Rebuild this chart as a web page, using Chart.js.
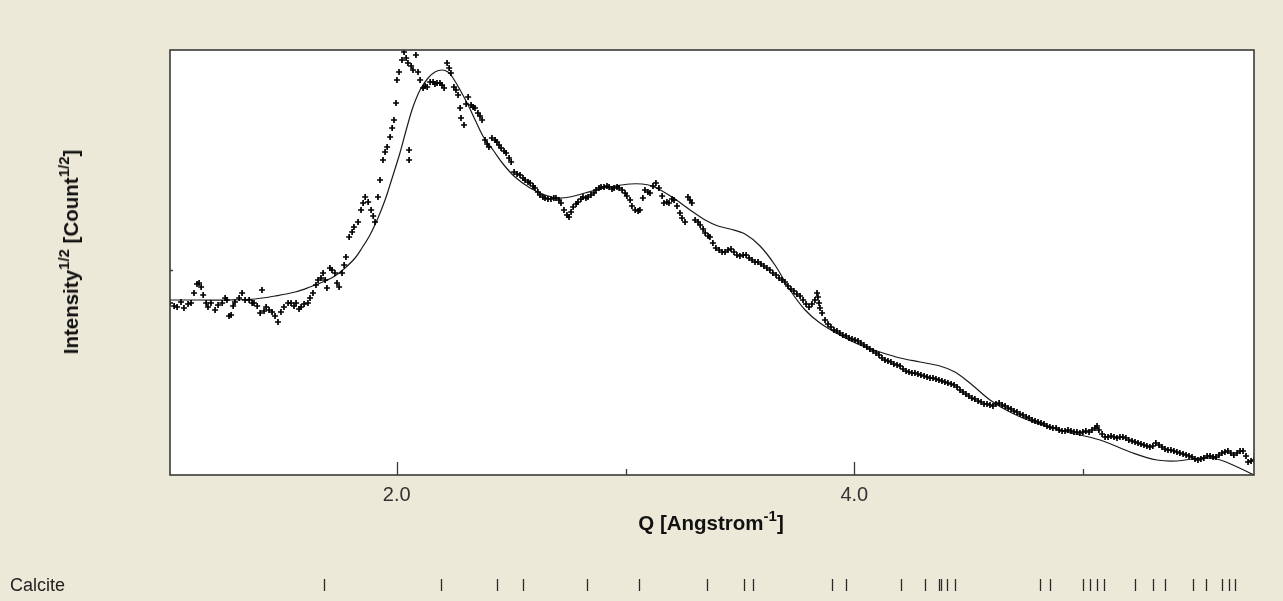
<!DOCTYPE html>
<html>
<head>
<meta charset="utf-8">
<script src="https://cdn.jsdelivr.net/npm/chart.js@4.4.1/dist/chart.umd.min.js"></script>
<style>
  html, body { margin: 0; padding: 0; background: #ece9d8; }
  #wrap { position: relative; width: 1283px; height: 601px; overflow: hidden; }
  canvas { position: absolute; left: 0; top: 0; }
  .lbl { position: absolute; font-family: "Liberation Sans", Arial, sans-serif; color: #111; white-space: nowrap; }
  .title { font-weight: bold; font-size: 20.5px; }
  .title sup { font-size: 15px; position: relative; vertical-align: baseline; top: -0.6em; }
  #ytitle { left: 71px; top: 252px; transform: translate(-50%, -50%) rotate(-90deg); }
  #xtitle { left: 711px; top: 523px; transform: translate(-50%, -50%); }
  #phase { left: 10px; top: 585px; transform: translateY(-50%); font-size: 18px; color: #222; }
</style>
</head>
<body>
<div id="wrap">
  <canvas id="c" width="1283" height="601"></canvas>
  <div id="ytitle" class="lbl title">Intensity<sup>1/2</sup> [Count<sup>1/2</sup>]</div>
  <div id="xtitle" class="lbl title">Q [Angstrom<sup>-1</sup>]</div>
  <div id="phase" class="lbl">Calcite</div>
</div>
<script>
// Observed pattern: Q [1/Angstrom] and sqrt(intensity)
const qObs = [
  1.009,1.027,1.040,1.057,1.070,1.088,1.101,1.114,1.127,1.136,1.145,1.154,1.167,1.175,1.188,1.206,1.219,1.237,1.250,1.258,
  1.267,1.276,1.285,1.293,1.311,1.324,1.337,1.355,1.368,1.376,1.390,1.403,1.411,1.420,1.429,1.442,1.455,1.468,1.481,1.494,
  1.507,1.525,1.538,1.551,1.560,1.573,1.582,1.595,1.612,1.621,1.634,1.647,1.656,1.669,1.678,1.687,1.695,1.708,1.717,1.730,
  1.739,1.748,1.761,1.770,1.778,1.792,1.805,1.813,1.831,1.844,1.853,1.862,1.875,1.888,1.897,1.905,1.918,1.927,1.940,1.949,
  1.958,1.971,1.980,1.988,1.997,2.001,2.010,2.023,2.032,2.041,2.049,2.054,2.054,2.063,2.071,2.084,2.093,2.102,2.115,2.124,
  2.133,2.146,2.159,2.167,2.176,2.189,2.198,2.207,2.220,2.229,2.237,2.250,2.259,2.268,2.277,2.281,2.294,2.303,2.312,2.325,
  2.334,2.342,2.355,2.364,2.373,2.386,2.395,2.403,2.416,2.430,2.438,2.447,2.456,2.469,2.478,2.491,2.500,2.513,2.526,2.539,
  2.552,2.561,2.574,2.583,2.596,2.604,2.617,2.626,2.639,2.648,2.661,2.674,2.687,2.696,2.709,2.718,2.731,2.744,2.753,2.762,
  2.771,2.784,2.792,2.805,2.814,2.827,2.836,2.849,2.862,2.871,2.884,2.893,2.906,2.919,2.928,2.941,2.950,2.963,2.972,2.985,
  2.998,3.006,3.020,3.028,3.042,3.055,3.063,3.076,3.085,3.098,3.107,3.120,3.133,3.146,3.160,3.168,3.181,3.190,3.203,3.212,
  3.225,3.238,3.247,3.260,3.273,3.282,3.290,3.304,3.317,3.326,3.339,3.348,3.361,3.369,
  3.382,3.395,3.409,3.422,3.435,3.448,3.461,3.474,3.487,3.500,3.514,3.527,3.540,3.553,3.566,3.579,3.592,3.605,3.618,3.631,
  3.644,3.658,3.671,3.684,3.697,3.710,3.723,3.736,3.749,3.763,3.776,3.789,3.802,3.815,3.828,3.837,3.841,3.846,3.850,3.859,
  3.872,3.885,3.898,3.911,3.924,3.937,3.950,3.964,3.977,3.990,4.003,4.016,4.029,4.042,4.055,4.068,4.082,4.095,4.108,4.121,
  4.134,4.147,4.160,4.173,4.187,4.200,4.213,4.226,4.239,4.252,4.265,4.278,4.291,4.305,4.318,4.331,4.344,4.357,4.370,4.383,
  4.396,4.409,4.423,4.436,4.449,4.462,4.475,4.488,4.501,4.514,4.527,4.541,4.554,4.567,4.580,4.593,4.606,4.619,4.633,4.646,
  4.659,4.672,4.685,4.698,4.711,4.724,4.737,4.751,4.764,4.777,4.790,4.803,4.816,4.829,4.842,4.855,4.868,4.882,4.895,4.908,
  4.921,4.934,4.947,4.960,4.973,4.986,4.999,5.012,5.026,5.039,5.052,5.061,5.069,5.083,5.096,5.109,5.122,5.135,5.148,5.161,
  5.174,5.187,5.200,5.214,5.227,5.240,5.253,5.266,5.279,5.292,5.305,5.318,5.332,5.345,5.358,5.371,5.384,5.397,5.410,5.423,
  5.437,5.450,5.463,5.476,5.489,5.502,5.515,5.528,5.542,5.555,5.568,5.581,5.594,5.607,5.620,5.633,5.646,5.659,5.673,5.686,
  5.699,5.712,5.721,5.734,5.747
];
const iObs = [
  267,264,263,268,262,266,267,277,286,287,283,275,267,263,267,260,265,267,272,270,
  254,255,264,268,272,277,270,270,267,267,264,257,280,259,263,260,258,254,248,258,
  263,267,267,264,267,261,263,266,267,272,277,285,290,292,297,290,282,302,300,297,
  287,283,297,305,313,333,338,343,348,360,367,373,368,360,354,348,373,390,410,418,
  423,433,442,450,467,490,498,510,518,512,507,420,410,504,500,515,498,490,482,484,
  483,488,488,486,487,487,485,482,507,502,497,483,480,475,462,452,445,466,473,465,
  463,462,457,454,450,430,426,423,432,430,428,425,422,419,417,412,408,398,396,395,
  392,390,388,387,384,382,378,375,373,372,371,371,372,372,370,367,360,355,353,358,
  363,366,368,371,373,372,373,375,377,380,382,383,383,384,383,381,382,383,382,380,
  377,374,370,364,360,359,360,372,380,378,377,384,387,382,374,367,368,367,371,370,
  364,357,352,348,373,370,367,350,348,345,341,337,334,333,
  327,322,320,318,318,320,321,318,315,314,315,315,312,310,308,308,306,304,302,300,
  297,295,292,290,288,284,281,279,276,274,270,266,263,266,270,277,273,267,262,257,
  250,246,243,240,239,237,235,234,232,231,230,229,227,225,223,221,219,217,215,212,
  210,209,208,206,205,204,201,199,198,197,197,196,195,194,193,192,192,191,190,189,
  188,187,186,185,183,180,178,176,174,172,171,169,168,166,166,165,164,166,167,165,
  164,162,161,159,158,156,155,153,152,150,149,148,147,146,144,143,142,142,140,139,
  139,140,139,138,138,137,138,139,138,140,142,144,140,136,133,133,134,133,132,133,
  133,132,130,129,128,127,126,125,124,123,124,127,125,123,121,120,120,119,118,117,
  116,115,114,113,111,110,111,112,114,114,113,113,115,117,118,119,117,115,117,119,
  119,114,108,109,110
];

// Fitted profile
const qFit = [
  1.009,1.140,1.271,1.381,1.468,1.556,1.621,1.687,1.730,1.774,1.818,1.848,1.883,1.918,1.949,1.980,2.014,2.045,2.071,2.102,
  2.137,2.167,2.198,2.224,2.246,2.277,2.312,2.347,2.382,2.421,2.465,2.517,2.583,2.648,2.705,2.757,2.823,2.889,2.954,3.020,
  3.072,3.116,3.160,3.216,3.282,3.348,3.404,3.457,3.522,3.588,3.653,3.719,3.785,3.850,3.937,4.025,4.112,4.200,4.287,4.374,
  4.440,4.505,4.593,4.680,4.781,4.929,5.074,5.218,5.323,5.410,5.511,5.585,5.655,5.747
];
const iFit = [
  270,270,270,271,274,278,283,289,294,302,312,322,335,352,370,392,417,443,463,480,
  492,498,500,498,492,480,465,448,432,420,406,393,382,375,372,373,377,381,384,386,
  386,384,379,371,360,350,344,341,336,324,305,280,260,247,235,225,218,212,208,204,
  198,187,170,158,148,138,130,117,110,109,112,111,105,95
];

// Calcite reflection positions (Q)
const calciteQ = [
  1.682,2.194,2.438,2.552,2.832,3.059,3.354,3.517,3.556,3.902,3.965,4.206,4.308,4.370,4.379,4.407,4.439,
  4.810,4.854,5.001,5.030,5.059,5.091,5.227,5.306,5.356,5.480,5.537,5.607,5.637,5.666
];

// Axis settings
const Q_MIN = 1.009, Q_MAX = 5.747;
const I_MIN = 95, I_MAX = 520;
const xMajor = [2.0, 4.0];
const xMinor = [3.0, 5.0];
const yTicks = [300];

const obsPoints = qObs.map((q, k) => ({ x: q, y: iObs[k] }));
const fitPoints = qFit.map((q, k) => ({ x: q, y: iFit[k] }));

const framePlugin = {
  id: 'frame',
  beforeDatasetsDraw(chart) {
    const { ctx, chartArea: a } = chart;
    ctx.save();
    ctx.fillStyle = '#ffffff';
    ctx.fillRect(a.left, a.top, a.right - a.left, a.bottom - a.top);
    ctx.restore();
  },
  afterDraw(chart) {
    const { ctx, chartArea: a } = chart;
    const xs = chart.scales.x, ys = chart.scales.y;
    ctx.save();
    ctx.strokeStyle = '#3a3a3a';
    ctx.lineWidth = 1.6;
    ctx.strokeRect(a.left, a.top, a.right - a.left, a.bottom - a.top);
    ctx.lineWidth = 1.3;
    ctx.beginPath();
    xMajor.forEach(v => {
      const px = Math.round(xs.getPixelForValue(v)) + 0.5;
      ctx.moveTo(px, a.bottom); ctx.lineTo(px, a.bottom - 13);
    });
    xMinor.forEach(v => {
      const px = Math.round(xs.getPixelForValue(v)) + 0.5;
      ctx.moveTo(px, a.bottom); ctx.lineTo(px, a.bottom - 6);
    });
    yTicks.forEach(v => {
      const py = Math.round(ys.getPixelForValue(v)) + 0.5;
      ctx.moveTo(a.left, py); ctx.lineTo(a.left + 3, py);
    });
    ctx.stroke();
    // phase reflection markers below the plot
    ctx.strokeStyle = '#2a2a2a';
    ctx.lineWidth = 1.3;
    ctx.beginPath();
    calciteQ.forEach(q => {
      const px = Math.round(xs.getPixelForValue(q)) + 0.5;
      ctx.moveTo(px, 579); ctx.lineTo(px, 591);
    });
    ctx.stroke();
    ctx.restore();
  }
};

new Chart(document.getElementById('c'), {
  type: 'scatter',
  data: {
    datasets: [
      {
        label: 'Observed',
        data: obsPoints,
        pointStyle: 'cross',
        pointRadius: 3,
        pointBorderWidth: 1.7,
        borderColor: '#000',
        backgroundColor: '#000',
        showLine: false
      },
      {
        label: 'Calculated',
        data: fitPoints,
        showLine: true,
        pointRadius: 0,
        borderColor: '#1a1a1a',
        borderWidth: 1.2,
        tension: 0.35,
        fill: false
      }
    ]
  },
  options: {
    responsive: false,
    animation: false,
    layout: { padding: { left: 0, top: 50, right: 29, bottom: 0 } },
    plugins: { legend: { display: false }, tooltip: { enabled: false } },
    scales: {
      x: {
        type: 'linear',
        min: Q_MIN, max: Q_MAX,
        grid: { display: false, drawTicks: false, tickLength: 0 },
        border: { display: false },
        afterBuildTicks: s => { s.ticks = xMajor.map(v => ({ value: v })); },
        afterFit: s => { s.height = 126; },
        ticks: {
          padding: 8,
          color: '#333',
          font: { family: 'Liberation Sans, Arial, sans-serif', size: 20 },
          callback: v => Number(v).toFixed(1)
        }
      },
      y: {
        type: 'linear',
        min: I_MIN, max: I_MAX,
        grid: { display: false, drawTicks: false, tickLength: 0 },
        border: { display: false },
        afterBuildTicks: s => { s.ticks = yTicks.map(v => ({ value: v })); },
        afterFit: s => { s.width = 170; },
        ticks: { display: false }
      }
    }
  },
  plugins: [framePlugin]
});
</script>
</body>
</html>
